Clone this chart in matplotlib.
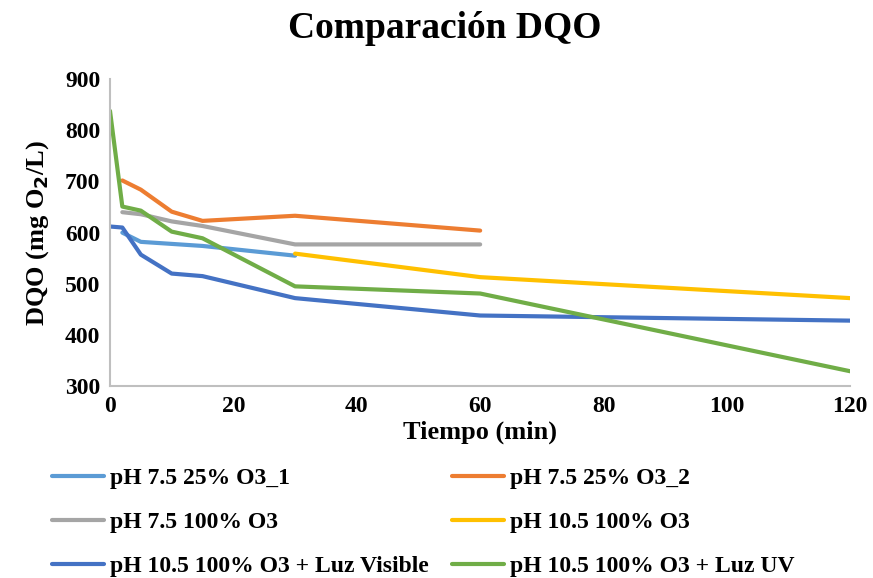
import matplotlib
matplotlib.use("Agg")
import matplotlib.pyplot as plt

t_a = [2, 5, 10, 15, 30]
s1 = [600, 582, 578, 574, 555]
t_b = [2, 5, 10, 15, 30, 60]
s2 = [702, 684, 641, 623, 633, 604]
s3 = [640, 636, 622, 613, 577, 577]
t_y = [30, 60, 120]
s4 = [559, 513, 472]
t_c = [0, 2, 5, 10, 15, 30, 60, 120]
s5 = [612, 610, 557, 520, 515, 472, 438, 428]
s6 = [838, 651, 643, 602, 589, 495, 481, 329]

labels = ["pH 7.5 25% O3_1", "pH 7.5 25% O3_2", "pH 7.5 100% O3",
          "pH 10.5 100% O3", "pH 10.5 100% O3 + Luz Visible",
          "pH 10.5 100% O3 + Luz UV"]
colors = ["#5B9BD5", "#ED7D31", "#A5A5A5", "#FFC000", "#4472C4", "#70AD47"]

plt.rcParams['font.family'] = ['Liberation Serif', 'DejaVu Serif']
plt.rcParams['font.weight'] = 'bold'

fig = plt.figure(figsize=(8.73, 5.78), dpi=100)
ax = fig.add_axes([0.126, 0.332, 0.848, 0.531])

series = [(t_a, s1), (t_b, s2), (t_b, s3), (t_y, s4), (t_c, s5), (t_c, s6)]
handles = []
for (x, y), lab, c in zip(series, labels, colors):
    h, = ax.plot(x, y, color=c, lw=3, label=lab, solid_capstyle='round')
    handles.append(h)

ax.set_xlim(0, 120)
ax.set_ylim(300, 900)
ax.set_xticks(range(0, 121, 20))
ax.set_yticks(range(300, 901, 100))
for s in ['top', 'right']:
    ax.spines[s].set_visible(False)
for s in ['left', 'bottom']:
    ax.spines[s].set_color('#BFBFBF')
    ax.spines[s].set_linewidth(1.5)
ax.tick_params(length=0, labelsize=17, pad=7)
for lbl in ax.get_xticklabels() + ax.get_yticklabels():
    lbl.set_fontweight('bold')

ax.set_xlabel("Tiempo (min)", fontsize=19, fontweight='bold', labelpad=3)
ax.set_ylabel("DQO (mg O$_\\mathbf{2}$/L)", fontsize=19, fontweight='bold', labelpad=10)
fig.text(0.51, 0.95, "Comparación DQO", ha='center', va='center',
         fontsize=27, fontweight='bold')

order = [0, 2, 4, 1, 3, 5]
fig.legend([handles[i] for i in order], [labels[i] for i in order],
           ncol=2, loc='upper left', bbox_to_anchor=(0.035, 0.228),
           frameon=False, handlelength=2.2, handletextpad=0.25,
           columnspacing=1.0, labelspacing=0.95,
           prop={'weight': 'bold', 'size': 17})

fig.savefig("out.png", dpi=100)
